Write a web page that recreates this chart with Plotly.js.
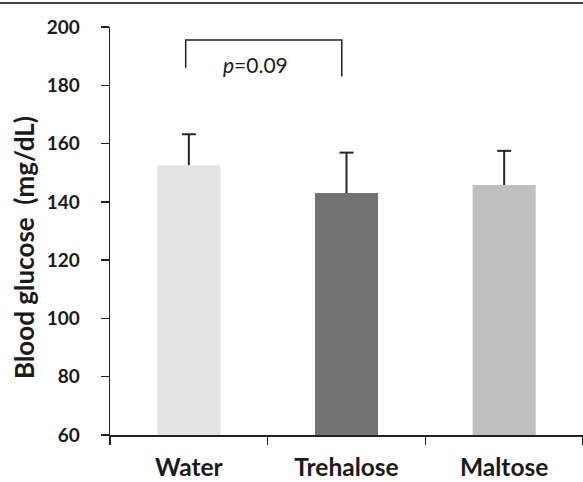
<!DOCTYPE html>
<html>
<head>
<meta charset="utf-8">
<script src="https://cdn.plot.ly/plotly-3.0.1.min.js"></script>
<style>html,body{margin:0;padding:0;background:#fff;}</style>
</head>
<body>
<div id="chart" style="width:583px;height:482px;"></div>
<script>
const categories = ["Water", "Trehalose", "Maltose"];
const means = [152.6, 143.0, 145.8];
const sems = [10.6, 13.9, 11.7];
const barColors = ["#e3e3e3", "#737373", "#bfbfbf"];
const yTicks = [60, 80, 100, 120, 140, 160, 180, 200];
const yTitle = "Blood glucose\u00a0 (mg/dL)";
const pLabel = "<i>p</i>=0.09";
const bracketLeftIdx = 0, bracketRightIdx = 1;
const bracketTop = 195.5, bracketLeftBottom = 186, bracketRightBottom = 183;

const xl = bracketLeftIdx - 0.02, xr = bracketRightIdx - 0.03;
const upper = means.map((m, i) => m + sems[i]);

const barTrace = {
  type: "bar",
  x: categories,
  y: means,
  width: 0.4,
  marker: {color: barColors, line: {width: 0}},
  hoverinfo: "none"
};
// upward-only error bars: stem from the bar top, cap drawn as a horizontal-line marker
const errTrace = {
  type: "scatter",
  mode: "markers",
  x: categories,
  y: upper,
  marker: {symbol: "line-ew-open", size: 10, color: "#262626", line: {color: "#262626", width: 2}},
  error_y: {type: "data", symmetric: false, array: [0, 0, 0], arrayminus: sems,
            color: "#262626", thickness: 2, width: 0},
  hoverinfo: "none"
};

const layout = {
  width: 583, height: 482,
  margin: {l: 110, r: 0, t: 27, b: 47, pad: 0},
  paper_bgcolor: "#fff", plot_bgcolor: "#fff",
  showlegend: false,
  font: {family: "Lato, sans-serif", color: "#1a1a1a"},
  xaxis: {
    type: "category",
    range: [-0.5, 2.5],
    showline: true, linecolor: "#222", linewidth: 1.5,
    ticks: "outside", tickson: "boundaries", ticklen: 8, tickwidth: 1.5, tickcolor: "#222",
    tickfont: {family: "Lato, sans-serif", size: 24.5, weight: "bold", color: "#1a1a1a"},
    ticklabelstandoff: 10,
    showgrid: false, zeroline: false, fixedrange: true
  },
  yaxis: {
    range: [60, 200],
    tickvals: yTicks,
    ticktext: yTicks.map(String),
    showline: true, linecolor: "#222", linewidth: 1.5,
    ticks: "outside", ticklen: 8, tickwidth: 1.5, tickcolor: "#222",
    tickfont: {family: "Lato, sans-serif", size: 19, weight: "bold", color: "#1a1a1a"},
    ticklabelstandoff: 17,
    showgrid: false, zeroline: false, fixedrange: true
  },
  shapes: [
    {type: "path", xref: "x", yref: "y",
     path: `M ${xl},${bracketLeftBottom} L ${xl},${bracketTop} L ${xr},${bracketTop} L ${xr},${bracketRightBottom}`,
     line: {color: "#222", width: 1.5}},
    {type: "line", xref: "paper", yref: "paper", x0: -110/473, x1: 1, y0: 1 + 24/408, y1: 1 + 24/408,
     line: {color: "#444", width: 2}}
  ],
  annotations: [
    {xref: "x", yref: "y", x: (xl + xr) / 2 - 0.05, y: 187.2, text: pLabel, showarrow: false,
     font: {family: "Lato, sans-serif", size: 21, color: "#1a1a1a"}, xanchor: "center", yanchor: "middle"},
    {xref: "paper", yref: "paper", x: -86/473, y: (435 - 248) / 408, text: yTitle, textangle: -90,
     showarrow: false, xanchor: "center", yanchor: "middle",
     font: {family: "Lato, sans-serif", size: 26, weight: "bold", color: "#1a1a1a"}}
  ]
};

Plotly.newPlot("chart", [barTrace, errTrace], layout, {displayModeBar: false, staticPlot: true});
</script>
</body>
</html>
